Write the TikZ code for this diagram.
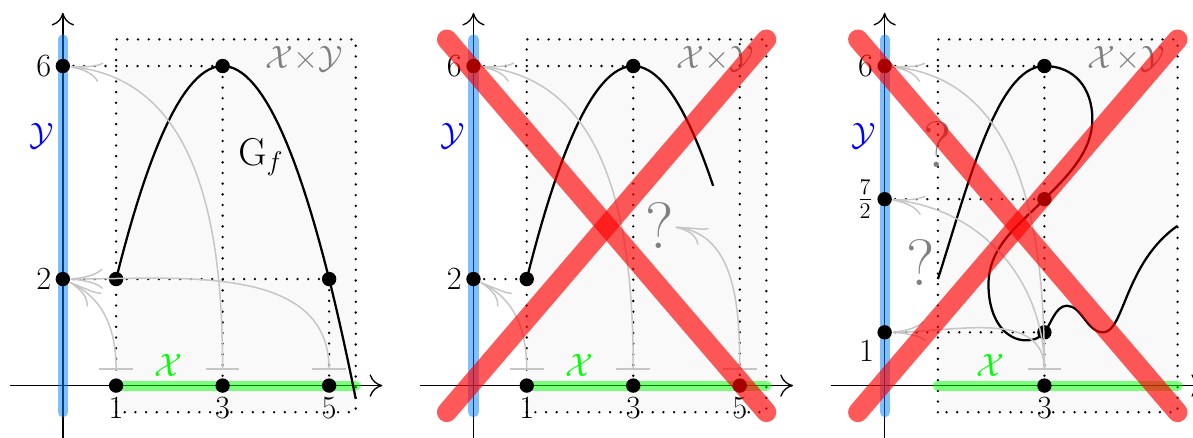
\documentclass[tikz,border=0pt]{standalone}
\usetikzlibrary{arrows.meta,bending}
\definecolor{yblue}{rgb}{0,0.5,1}
\pgfdeclarelayer{bg}
\pgfsetlayers{bg,main}
\tikzset{
  axisline/.style={line width=0.7pt, -{To[length=2.4mm,width=4.2mm]}},
  guide/.style={line width=1.4pt, line cap=round, dash pattern=on 0pt off 5.7pt},
  region/.style={guide, fill=gray!5},
  yband/.style={line width=5.4pt, line cap=round, draw=yblue, draw opacity=0.5},
  xband/.style={line width=5.4pt, line cap=round, draw=green, draw opacity=0.5},
  graphline/.style={line width=1.2pt},
  pt/.style={circle, fill=black, inner sep=0pt, minimum size=2.7mm},
  lbl/.style={font=\LARGE, inner sep=2pt},
  garrow/.style={draw=gray!45, line width=0.8pt, {Bar[width=6.3mm]}-{To[length=6mm,width=3.8mm,bend]}},
  cross/.style={line width=10.6pt, line cap=round, draw=red, draw opacity=0.65},
  qmark/.style={text=gray, font={\fontsize{35}{40}\selectfont}, inner sep=0.5pt},
  prodlbl/.style={text=gray, font=\LARGE, anchor=north east, inner sep=0pt},
  xlbl/.style={text=green, font=\LARGE, inner sep=0pt},
  ylbl/.style={text=blue, font=\LARGE, inner sep=0pt},
}
\begin{document}
\begin{tikzpicture}
\useasboundingbox (-1.18,-0.97) rectangle (21.22,7.24);

% ================= panel 1 =================
\begin{scope}
  \coordinate (aBL) at (1,-0.5); \coordinate (aTR) at (5.5,6.5);
  \coordinate (aXs) at (-1,0); \coordinate (aXe) at (6,0);
  \coordinate (aYs) at (0,-1); \coordinate (aYe) at (0,7);
  \coordinate (aYb) at (0,-0.5); \coordinate (aYt) at (0,6.5);
  \coordinate (aXb) at (1,0); \coordinate (aXt) at (5.5,0);
  \coordinate (at1) at (1,0.3); \coordinate (at3) at (3,0.3); \coordinate (at5) at (5,0.3);
  \node[pt, label={[lbl]left:$6$}] (a6) at (0,6) {};
  \node[pt, label={[lbl]left:$2$}] (a2) at (0,2) {};
  \node[pt, label={[lbl]below:$1$}] (ax1) at (1,0) {};
  \node[pt, label={[lbl]below:$3$}] (ax3) at (3,0) {};
  \node[pt, label={[lbl]below:$5$}] (ax5) at (5,0) {};
  \node[pt] (ap1) at (1,2) {};
  \node[pt] (ap3) at (3,6) {};
  \node[pt] (ap5) at (5,2) {};
  \begin{pgfonlayer}{bg}
    \draw[region] (aBL) rectangle (aTR);
    \draw[guide] (a6.center) -- (ap3.center) -- (ax3.center);
    \draw[guide] (a2.center) -- (ap5.center) -- (ax5.center);
    \draw[axisline] (aXs) -- (aXe);
    \draw[axisline] (aYs) -- (aYe);
    \draw[yband] (aYb) -- (aYt);
    \draw[xband] (aXb) -- (aXt);
    \draw[graphline] plot[domain=1:5.5, samples=60] (\x,{6-(\x-3)^2});
  \end{pgfonlayer}
  \draw[garrow] (at1) to[out=90,in=-25] (a2);
  \draw[garrow] (at3) to[out=90,in=-5] (a6);
  \draw[garrow] (at5) to[out=90,in=0] (a2);
  \node[prodlbl] (axy) at (5.27,6.37) {$\mathcal{X}{\times}\mathcal{Y}$};
  \node[xlbl] (axl) at (1.98,0.37) {$\mathcal{X}$};
  \node[ylbl] (ayl) at (-0.4,4.68) {$\mathcal{Y}$};
  \node[font=\huge, anchor=base west, inner sep=0pt] (agf) at (3.29,4.14) {$\mathrm{G}_f$};
\end{scope}

% ================= panel 2 =================
\begin{scope}[shift={(7.71,0)}]
  \coordinate (bBL) at (1,-0.5); \coordinate (bTR) at (5.5,6.5);
  \coordinate (bXs) at (-1,0); \coordinate (bXe) at (6,0);
  \coordinate (bYs) at (0,-1); \coordinate (bYe) at (0,7);
  \coordinate (bYb) at (0,-0.5); \coordinate (bYt) at (0,6.5);
  \coordinate (bXb) at (1,0); \coordinate (bXt) at (5.5,0);
  \coordinate (bV) at (5,6.5);
  \coordinate (bt1) at (1,0.3); \coordinate (bt3) at (3,0.3); \coordinate (bt5) at (5,0.3);
  \coordinate (bc1) at (-0.5,6.5); \coordinate (bc2) at (5.5,-0.5);
  \coordinate (bc3) at (-0.5,-0.5); \coordinate (bc4) at (5.5,6.5);
  \node[pt, label={[lbl]left:$6$}] (b6) at (0,6) {};
  \node[pt, label={[lbl]left:$2$}] (b2) at (0,2) {};
  \node[pt, label={[lbl]below:$1$}] (bx1) at (1,0) {};
  \node[pt, label={[lbl]below:$3$}] (bx3) at (3,0) {};
  \node[pt, label={[lbl]below:$5$}] (bx5) at (5,0) {};
  \node[pt] (bp1) at (1,2) {};
  \node[pt] (bp3) at (3,6) {};
  \begin{pgfonlayer}{bg}
    \draw[region] (bBL) rectangle (bTR);
    \draw[guide] (b6.center) -- (bp3.center) -- (bx3.center);
    \draw[guide] (b2.center) -- (bp1.center);
    \draw[guide] (bx5.center) -- (bV);
    \draw[axisline] (bXs) -- (bXe);
    \draw[axisline] (bYs) -- (bYe);
    \draw[yband] (bYb) -- (bYt);
    \draw[xband] (bXb) -- (bXt);
    \draw[graphline] plot[domain=1:4.5, samples=50] (\x,{6-(\x-3)^2});
  \end{pgfonlayer}
  \node[qmark] (bq) at (3.5,3) {?};
  \draw[garrow] (bt1) to[out=90,in=-25] (b2);
  \draw[garrow] (bt3) to[out=90,in=-5] (b6);
  \draw[garrow] (bt5) to[out=90,in=-5] (bq);
  \node[prodlbl] (bxy) at (5.27,6.37) {$\mathcal{X}{\times}\mathcal{Y}$};
  \node[xlbl] (bxl) at (1.98,0.37) {$\mathcal{X}$};
  \node[ylbl] (byl) at (-0.4,4.68) {$\mathcal{Y}$};
  \draw[cross] (bc1) -- (bc2);
  \draw[cross] (bc3) -- (bc4);
\end{scope}

% ================= panel 3 =================
\begin{scope}[shift={(15.43,0)}]
  \coordinate (cBL) at (1,-0.5); \coordinate (cTR) at (5.5,6.5);
  \coordinate (cXs) at (-1,0); \coordinate (cXe) at (6,0);
  \coordinate (cYs) at (0,-1); \coordinate (cYe) at (0,7);
  \coordinate (cYb) at (0,-0.5); \coordinate (cYt) at (0,6.5);
  \coordinate (cXb) at (1,0); \coordinate (cXt) at (5.5,0);
  \coordinate (ct3) at (3,0.3);
  \coordinate (cc1) at (-0.5,6.5); \coordinate (cc2) at (5.5,-0.5);
  \coordinate (cc3) at (-0.5,-0.5); \coordinate (cc4) at (5.5,6.5);
  \node[pt, label={[lbl]left:$6$}] (c6) at (0,6) {};
  \node[pt, label={[lbl]left:$\frac{7}{2}$}] (c35) at (0,3.5) {};
  \node[pt, label={[lbl]-150:$1$}] (c1) at (0,1) {};
  \node[pt, label={[lbl]below:$3$}] (cx3) at (3,0) {};
  \node[pt] (cp6) at (3,6) {};
  \node[pt] (cp35) at (3,3.5) {};
  \node[pt] (cp1) at (3,1) {};
  \begin{pgfonlayer}{bg}
    \draw[region] (cBL) rectangle (cTR);
    \draw[guide] (c6.center) -- (cp6.center) -- (cx3.center);
    \draw[guide] (c35.center) -- (cp35.center);
    \draw[guide] (c1.center) -- (cp1.center);
    \draw[axisline] (cXs) -- (cXe);
    \draw[axisline] (cYs) -- (cYe);
    \draw[yband] (cYb) -- (cYt);
    \draw[xband] (cXb) -- (cXt);
    \draw[graphline] (1,2) .. controls (1.55,3.7) and (2.1,6) .. (3,6)
      .. controls (3.55,6) and (3.9,5.6) .. (3.9,5)
      .. controls (3.9,4.4) and (3.45,3.95) .. (3,3.5)
      .. controls (2.5,3.0) and (1.95,2.6) .. (1.95,1.9)
      .. controls (1.95,1.2) and (2.3,0.85) .. (2.65,0.85)
      .. controls (2.85,0.85) and (2.92,0.92) .. (3,1)
      .. controls (3.1,1.1) and (3.2,1.5) .. (3.42,1.5)
      .. controls (3.7,1.5) and (3.8,1.0) .. (4.1,1.0)
      .. controls (4.5,1.0) and (4.5,2.3) .. (5.5,3);
  \end{pgfonlayer}
  \node[qmark] (cq1) at (1.0,4.52) {?};
  \node[qmark] (cq2) at (0.68,2.31) {?};
  \draw[garrow] (ct3) to[out=90,in=-5] (c6);
  \draw[garrow] (ct3) to[out=90,in=-5] (c35);
  \draw[garrow] (ct3) to[out=90,in=0] (c1);
  \node[prodlbl] (cxy) at (5.27,6.37) {$\mathcal{X}{\times}\mathcal{Y}$};
  \node[xlbl] (cxl) at (1.98,0.37) {$\mathcal{X}$};
  \node[ylbl] (cyl) at (-0.4,4.68) {$\mathcal{Y}$};
  \draw[cross] (cc1) -- (cc2);
  \draw[cross] (cc3) -- (cc4);
\end{scope}
\end{tikzpicture}
\end{document}
